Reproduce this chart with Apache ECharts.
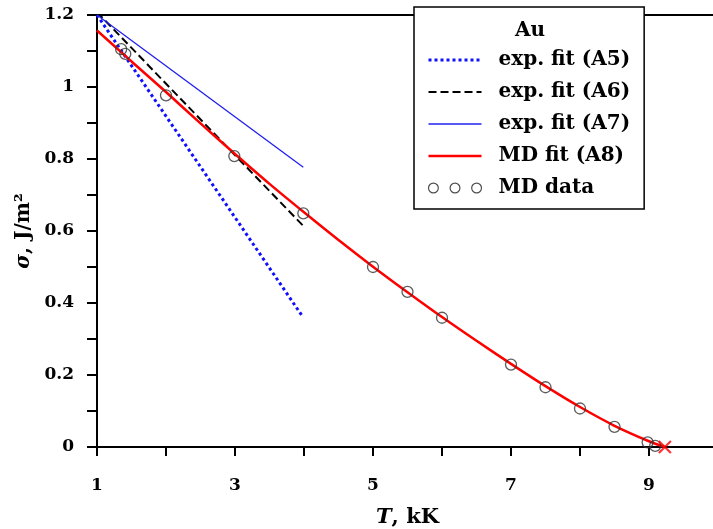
<!DOCTYPE html>
<html>
<head>
<meta charset="utf-8">
<script src="https://cdn.jsdelivr.net/npm/echarts@6/dist/echarts.min.js"></script>
<style>
html,body{margin:0;padding:0;background:#fff;}
#chart{width:713px;height:529px;}
</style>
</head>
<body>
<div id="chart"></div>
<script>
// ---- data ----
var xTickLabels = ['1', '3', '5', '7', '9'];
var yTickLabels = ['0', '0.2', '0.4', '0.6', '0.8', '1', '1.2'];

var a5T = [1.0, 3.97];
var a5Sigma = [1.200, 0.365];

var a6T = [1.0, 3.99];
var a6Sigma = [1.208, 0.614];

var a7T = [1.0, 3.99];
var a7Sigma = [1.200, 0.777];

var a8T = [1.0, 1.5, 2.0, 2.5, 3.0, 3.5, 4.0, 4.5, 5.0, 5.5, 6.0, 6.5, 7.0, 7.5, 8.0, 8.5, 9.0, 9.23];
var a8Sigma = [1.157, 1.071, 0.986, 0.899, 0.814, 0.731, 0.652, 0.575, 0.501, 0.430, 0.361, 0.295, 0.231, 0.169, 0.111, 0.059, 0.016, 0.0];

var mdT = [1.35, 1.41, 2.0, 2.99, 3.99, 5.0, 5.5, 6.0, 7.0, 7.5, 8.0, 8.5, 8.98, 9.09];
var mdSigma = [1.105, 1.092, 0.977, 0.808, 0.649, 0.500, 0.431, 0.359, 0.229, 0.166, 0.107, 0.056, 0.013, 0.003];

var critT = [9.23];
var critSigma = [0.0];

var seriesNames = ['exp. fit (A5)', 'exp. fit (A6)', 'exp. fit (A7)', 'MD fit (A8)', 'MD data'];
var legendTitle = 'Au';

function pairs(xs, ys) { return xs.map(function (x, i) { return [x, ys[i]]; }); }

var FONT = 'DejaVu Serif';

function labelFrom(list) {
  return function (v) {
    for (var i = 0; i < list.length; i++) {
      if (Math.abs(Number(list[i]) - v) < 1e-6) return list[i];
    }
    return '';
  };
}

var hideSym = { opacity: 0 };
var styleA5 = { color: '#1010ff', width: 3, type: 'dotted' };
var styleA6 = { color: '#000', width: 2, type: 'dashed' };
var styleA7 = { color: '#2020ee', width: 1.5, type: 'solid' };
var styleA8 = { color: '#ff0000', width: 2.5, type: 'solid' };

var chart = echarts.init(document.getElementById('chart'), null, { renderer: 'canvas' });

var option = {
  animation: false,
  backgroundColor: '#fff',
  title: {
    text: legendTitle,
    left: 530,
    top: 21,
    padding: 0,
    textAlign: 'center',
    z: 10,
    textStyle: { fontFamily: FONT, fontWeight: 'bold', fontSize: 20, color: '#000' }
  },
  legend: {
    data: [
      { name: seriesNames[0], itemStyle: hideSym, lineStyle: styleA5 },
      { name: seriesNames[1], itemStyle: hideSym, lineStyle: styleA6 },
      { name: seriesNames[2], itemStyle: hideSym, lineStyle: styleA7 },
      { name: seriesNames[3], itemStyle: hideSym, lineStyle: styleA8 },
      {
        name: seriesNames[4],
        icon: 'path://M0,5a5,5 0 1,0 10,0a5,5 0 1,0 -10,0M22,5a5,5 0 1,0 10,0a5,5 0 1,0 -10,0M44,5a5,5 0 1,0 10,0a5,5 0 1,0 -10,0',
        itemStyle: { color: 'transparent', borderColor: '#222', borderWidth: 1.2 }
      }
    ],
    orient: 'vertical',
    left: 414,
    top: 7,
    itemWidth: 53,
    itemHeight: 14,
    itemGap: 10,
    padding: [42, 14, 10, 13],
    backgroundColor: '#fff',
    borderColor: '#000',
    borderWidth: 1.5,
    selectedMode: false,
    textStyle: { fontFamily: FONT, fontWeight: 'bold', fontSize: 20, color: '#000', lineHeight: 22, padding: [0, 0, 0, 12] }
  },
  grid: {
    left: 97,
    top: 15,
    right: -5,
    bottom: 82,
    outerBoundsMode: 'none',
    containLabel: false,
    show: true,
    borderColor: '#000',
    borderWidth: 2,
    backgroundColor: 'transparent'
  },
  xAxis: {
    type: 'value',
    min: 1,
    max: 10,
    interval: 1,
    name: '{i|T}, kK',
    nameLocation: 'middle',
    nameGap: 60,
    nameTextStyle: {
      fontFamily: FONT, fontWeight: 'bold', fontSize: 21, color: '#000',
      rich: { i: { fontFamily: FONT, fontWeight: 'bold', fontStyle: 'italic', fontSize: 21, color: '#000' } }
    },
    axisLine: { show: true, lineStyle: { color: '#000', width: 2 } },
    axisTick: { show: true, inside: false, length: 9, lineStyle: { color: '#000', width: 2 } },
    axisLabel: { formatter: labelFrom(xTickLabels), margin: 30, fontFamily: FONT, fontWeight: 'bold', fontSize: 17, color: '#000' },
    splitLine: { show: false }
  },
  yAxis: {
    type: 'value',
    min: 0,
    max: 1.2,
    interval: 0.1,
    name: '{i|σ}, J/m²',
    nameLocation: 'middle',
    nameGap: 56,
    nameTextStyle: {
      fontFamily: FONT, fontWeight: 'bold', fontSize: 20, color: '#000',
      rich: { i: { fontFamily: FONT, fontWeight: 'bold', fontStyle: 'italic', fontSize: 20, color: '#000' } }
    },
    axisLine: { show: true, lineStyle: { color: '#000', width: 2 } },
    axisTick: { show: true, inside: false, length: 10, lineStyle: { color: '#000', width: 2 } },
    axisLabel: { formatter: labelFrom(yTickLabels), margin: 23, fontFamily: FONT, fontWeight: 'bold', fontSize: 17, color: '#000' },
    splitLine: { show: false }
  },
  series: [
    {
      name: seriesNames[0], type: 'line', data: pairs(a5T, a5Sigma), symbol: 'none',
      itemStyle: { color: styleA5.color }, lineStyle: styleA5, z: 3
    },
    {
      name: seriesNames[1], type: 'line', data: pairs(a6T, a6Sigma), symbol: 'none',
      itemStyle: { color: styleA6.color }, lineStyle: styleA6, z: 3
    },
    {
      name: seriesNames[2], type: 'line', data: pairs(a7T, a7Sigma), symbol: 'none',
      itemStyle: { color: styleA7.color }, lineStyle: { color: styleA7.color, width: 1.3, type: 'solid' }, z: 3
    },
    {
      name: seriesNames[3], type: 'line', data: pairs(a8T, a8Sigma), symbol: 'none', smooth: 0.3,
      itemStyle: { color: styleA8.color }, lineStyle: styleA8, z: 4
    },
    {
      name: seriesNames[4], type: 'scatter', data: pairs(mdT, mdSigma), symbol: 'circle', symbolSize: 11,
      itemStyle: { color: 'transparent', borderColor: '#333', borderWidth: 1.3 }, z: 5
    },
    {
      name: 'critical point', type: 'scatter', data: pairs(critT, critSigma),
      symbol: 'path://M0,0L10,10M10,0L0,10', symbolSize: 12,
      itemStyle: { color: 'none', borderColor: '#ff0000', borderWidth: 2.2 }, z: 6
    }
  ]
};

chart.setOption(option);
</script>
</body>
</html>
